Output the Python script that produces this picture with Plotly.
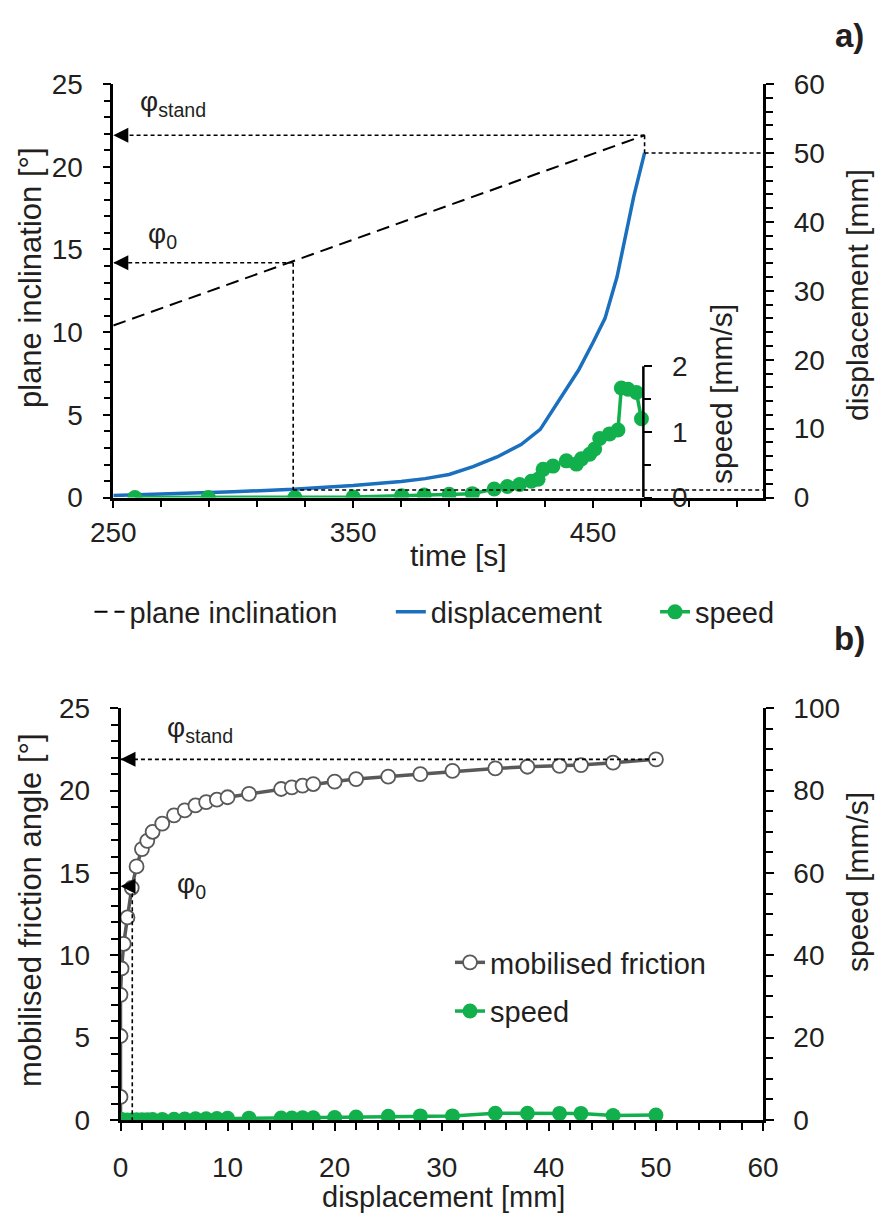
import plotly.graph_objects as go

W, H = 875, 1213

# ---------------- data: panel a (time series) ----------------
time_incl = [250, 471.5]
plane_incl = [10.4, 21.9]

time_disp = [250, 275, 300, 325, 350, 370, 380, 390, 400, 410, 420, 428, 436, 444, 450, 455, 460, 467, 471.5]
displacement = [0.3, 0.55, 0.85, 1.2, 1.75, 2.35, 2.75, 3.35, 4.5, 5.9, 7.7, 9.9, 14.2, 18.5, 22.5, 26.0, 32.0, 43.7, 50.0]

time_speed = [259, 289.6, 325.7, 350, 370.2, 379.6, 390, 399.7, 408.8, 414.3, 419.4, 424.3, 427.1,
              429.2, 433.3, 438.9, 443.1, 445.2, 448.6, 450.7, 452.8, 456.9, 460.4, 461.8, 464.6,
              468.1, 470.2]
speed_a = [0.0, 0.0, 0.0, 0.01, 0.03, 0.04, 0.05, 0.06, 0.13, 0.17, 0.2, 0.25, 0.28,
           0.43, 0.48, 0.56, 0.51, 0.59, 0.66, 0.74, 0.9, 0.97, 1.03, 1.67, 1.65,
           1.6, 1.2]

# characteristic values
T_START = 250
T_PHI0 = 325
T_END = 471.5
PHI_0 = 14.2
PHI_STAND = 21.9
D_PHI0 = 1.1
D_END = 50
T_SPEED_AXIS = 471

# ---------------- data: panel b (vs displacement) ----------------
disp_b = [0, 0, 0, 0, 0.1, 0.3, 0.65, 1.05, 1.5, 2.0, 2.5, 3.0, 3.9, 5, 6, 7, 8, 9, 10, 12,
          15, 16, 17, 18, 20, 22, 25, 28, 31, 35, 38, 41, 43, 46, 50]
friction_b = [0, 1.4, 5.1, 7.6, 9.2, 10.7, 12.3, 14.1, 15.4, 16.45, 16.95, 17.5, 18.0, 18.5, 18.8,
              19.1, 19.3, 19.45, 19.6, 19.8, 20.1, 20.2, 20.3, 20.4, 20.55, 20.7, 20.85, 21.0,
              21.2, 21.35, 21.45, 21.5, 21.55, 21.7, 21.9]
speed_b = [0, 0, 0, 0, 0, 0, 0.02, 0.03, 0.04, 0.05, 0.06, 0.1, 0.15, 0.2, 0.25, 0.28, 0.3,
           0.35, 0.4, 0.45, 0.5, 0.5, 0.55, 0.55, 0.6, 0.7, 0.9, 1.0, 1.0, 1.65, 1.65, 1.6,
           1.6, 1.1, 1.2]

# axis ranges / ticks
XA_RANGE = [250, 521]
YA_RANGE = [0, 25]
YA2_RANGE = [0, 60]
YA3_RANGE = [0, 6.3]
XB_RANGE = [0, 60]
YB_RANGE = [0, 25]
YB2_RANGE = [0, 100]

# ---------------- style ----------------
FONT = "Liberation Sans, Arial, sans-serif"
TXT = "#231f20"
GREEN = "#12b04c"
BLUE = "#1a6fbe"
GREY = "#595959"
FS = 28
FT = 30

XA_DOM = [113.3 / W, 763.3 / W]
YA_DOM = [1 - 497.6 / H, 1 - 84 / H]
XB_DOM = [120.5 / W, 763 / W]
YB_DOM = [1 - 1120 / H, 1 - 708.3 / H]


def frac(v, rng, dom):
    return dom[0] + (v - rng[0]) / (rng[1] - rng[0]) * (dom[1] - dom[0])


def axis(**kw):
    d = dict(showgrid=False, zeroline=False, showline=True, linecolor="black", linewidth=2.5,
             ticks="outside", ticklen=8, tickwidth=2, tickcolor="black",
             tickfont=dict(size=FS, color=TXT, family=FONT), automargin=False,
             ticklabelstandoff=14)
    d.update(kw)
    return d


def minor(**kw):
    d = dict(ticks="outside", ticklen=7, tickwidth=2, tickcolor="black", showgrid=False)
    d.update(kw)
    return d


def ghost(**kw):
    d = dict(showgrid=False, zeroline=False, showline=False, ticks="inside", ticklen=8,
             tickwidth=2, tickcolor="black", showticklabels=False, tickmode="array",
             automargin=False)
    d.update(kw)
    return d


fig = go.Figure()

NB = "\u00a0"
# panel a traces
fig.add_trace(go.Scatter(x=time_incl, y=plane_incl, mode="lines", name="plane inclination" + NB * 6,
                         line=dict(color="black", width=2, dash="13px,7px"),
                         xaxis="x", yaxis="y", legend="legend"))
fig.add_trace(go.Scatter(x=time_disp, y=displacement, mode="lines", name="displacement" + NB * 6,
                         line=dict(color=BLUE, width=3.5),
                         xaxis="x", yaxis="y2", legend="legend"))
fig.add_trace(go.Scatter(x=time_speed, y=speed_a, mode="lines+markers", name="speed",
                         line=dict(color=GREEN, width=3.5),
                         marker=dict(color=GREEN, size=15),
                         xaxis="x", yaxis="y3", legend="legend"))

# panel b traces
fig.add_trace(go.Scatter(x=disp_b, y=friction_b, mode="lines+markers", name="mobilised friction",
                         line=dict(color=GREY, width=3.5),
                         marker=dict(color="white", size=14, line=dict(color=GREY, width=1.8)),
                         xaxis="x2", yaxis="y4", legend="legend2", legendgroup="g1"))
fig.add_trace(go.Scatter(x=disp_b, y=speed_b, mode="lines+markers", name="speed",
                         line=dict(color=GREEN, width=3.5),
                         marker=dict(color=GREEN, size=15),
                         xaxis="x2", yaxis="y5", legend="legend2", legendgroup="g2"))

speed_axis_pos = frac(T_SPEED_AXIS, XA_RANGE, XA_DOM)

layout = dict(
    width=W, height=H,
    margin=dict(l=0, r=0, t=0, b=0, pad=0),
    paper_bgcolor="white", plot_bgcolor="rgba(0,0,0,0)",
    font=dict(family=FONT, color=TXT, size=FS),
    showlegend=True,
    # ---- panel a
    xaxis=axis(domain=XA_DOM, anchor="y", range=XA_RANGE, tick0=250, dtick=100,
               minor=minor(tick0=250, dtick=20), ticklabelstandoff=0),
    yaxis=axis(domain=YA_DOM, anchor="x", range=YA_RANGE, tick0=0, dtick=5,
               minor=minor(tick0=0, dtick=1)),
    yaxis2=axis(overlaying="y", anchor="x", side="right", range=YA2_RANGE, tick0=0, dtick=10,
                minor=minor(tick0=0, dtick=2)),
    yaxis3=axis(overlaying="y", anchor="free", position=speed_axis_pos, side="right",
                range=YA3_RANGE, tickmode="array", tickvals=[0, 1, 2], showline=False,
                minor=minor(tickmode="array", tickvals=[0.5, 1.5])),
    # ---- panel b
    xaxis2=axis(domain=XB_DOM, anchor="y4", range=XB_RANGE, tick0=0, dtick=10,
                minor=minor(tick0=0, dtick=2), ticklabelstandoff=13),
    yaxis4=axis(domain=YB_DOM, anchor="x2", range=YB_RANGE, tick0=0, dtick=5,
                minor=minor(tick0=0, dtick=1)),
    yaxis5=axis(overlaying="y4", anchor="x2", side="right", range=YB2_RANGE, tick0=0, dtick=20,
                minor=minor(tick0=0, dtick=5)),
    # ---- ghost axes: inner half of crossing major ticks
    xaxis3=ghost(overlaying="x", anchor="y", range=XA_RANGE, tickvals=[250, 350, 450]),
    xaxis4=ghost(overlaying="x2", anchor="y4", range=XB_RANGE, tickvals=[0, 10, 20, 30, 40, 50, 60]),
    yaxis6=ghost(overlaying="y", anchor="x", range=YA_RANGE, tickvals=[0, 5, 10, 15, 20, 25]),
    yaxis7=ghost(overlaying="y", anchor="x", side="right", range=YA2_RANGE,
                 tickvals=[0, 10, 20, 30, 40, 50, 60]),
    yaxis8=ghost(overlaying="y", anchor="free", position=speed_axis_pos, side="right",
                 range=YA3_RANGE, tickvals=[0, 1, 2]),
    yaxis9=ghost(overlaying="y4", anchor="x2", range=YB_RANGE, tickvals=[0, 5, 10, 15, 20, 25]),
    yaxis10=ghost(overlaying="y4", anchor="x2", side="right", range=YB2_RANGE,
                  tickvals=[0, 20, 40, 60, 80, 100]),
    legend=dict(orientation="h", x=89.5 / W, xanchor="left", y=1 - 612 / H, yanchor="middle",
                font=dict(size=29, color=TXT, family=FONT), bgcolor="rgba(0,0,0,0)",
                borderwidth=0),
    legend2=dict(orientation="v", x=450 / W, xanchor="left", y=1 - 987 / H, yanchor="middle",
                 font=dict(size=29, color=TXT, family=FONT), bgcolor="rgba(0,0,0,0)",
                 borderwidth=0, tracegroupgap=8),
)
fig.update_layout(**layout)

# ---------------- reference lines (dotted) ----------------
DOT = dict(color="black", width=1.6, dash="4px,3px")
y2_per_y = (YA2_RANGE[1] - YA2_RANGE[0]) / (YA_RANGE[1] - YA_RANGE[0])
shapes = [
    # panel a: phi_stand
    dict(type="line", xref="x", yref="y", x0=T_END, x1=T_START, y0=PHI_STAND, y1=PHI_STAND, line=DOT),
    dict(type="line", xref="x", yref="y2", x0=T_END, x1=T_END, y0=PHI_STAND * y2_per_y, y1=D_END, line=DOT),
    dict(type="line", xref="x", yref="y2", x0=T_END, x1=XA_RANGE[1], y0=D_END, y1=D_END, line=DOT),
    # panel a: phi_0
    dict(type="line", xref="x", yref="y", x0=T_PHI0, x1=T_START, y0=PHI_0, y1=PHI_0, line=DOT),
    dict(type="line", xref="x", yref="y2", x0=T_PHI0, x1=T_PHI0, y0=PHI_0 * y2_per_y, y1=D_PHI0, line=DOT),
    dict(type="line", xref="x", yref="y2", x0=T_PHI0, x1=XA_RANGE[1], y0=D_PHI0, y1=D_PHI0, line=DOT),
    # panel a: speed inset axis line (0..2)
    dict(type="line", xref="x", yref="y3", x0=T_SPEED_AXIS, x1=T_SPEED_AXIS, y0=0, y1=2,
         line=dict(color="black", width=2.5)),
    # panel b
    dict(type="line", xref="x2", yref="y4", x0=D_END, x1=0, y0=PHI_STAND, y1=PHI_STAND, line=DOT),
    dict(type="line", xref="x2", yref="y4", x0=D_PHI0, x1=D_PHI0, y0=PHI_0, y1=0, line=DOT),
]
fig.update_layout(shapes=shapes)

# ---------------- annotations ----------------
ann = []


def arrow(xref, yref, x, y):
    ann.append(dict(xref=xref, yref=yref, x=x, y=y, ax=14, ay=0, text="", showarrow=True,
                    arrowhead=2, arrowsize=2.0, arrowwidth=1.5, arrowcolor="black"))


arrow("x", "y", T_START, PHI_STAND)
arrow("x", "y", T_START, PHI_0)
arrow("x2", "y4", 0, PHI_STAND)
arrow("x2", "y4", 0, PHI_0)


def label(text, x, y, size=FT, angle=0, xanchor="center"):
    ann.append(dict(xref="paper", yref="paper", x=x / W, y=1 - y / H, text=text, showarrow=False,
                    textangle=angle, xanchor=xanchor, yanchor="middle",
                    font=dict(size=size, color=TXT, family=FONT)))


label("φ<sub>stand</sub>", 138, 103, size=FS, xanchor="left")
label("φ<sub>0</sub>", 146, 236, size=FS, xanchor="left")
label("φ<sub>stand</sub>", 165, 729, size=FS, xanchor="left")
label("φ<sub>0</sub>", 175, 885, size=FS, xanchor="left")

label("plane inclination [°]", 30, 278, size=31, angle=-90)
label("displacement [mm]", 857, 295, angle=-90)
label("speed [mm/s]", 722, 394, angle=-90)
label("time [s]", 458, 555)
label("mobilised friction angle [°]", 30, 910, size=31, angle=-90)
label("speed [mm/s]", 857, 882, angle=-90)
label("displacement [mm]", 443, 1197, size=29)
label("<b>a)</b>", 849, 35, size=33)
label("<b>b)</b>", 849, 638, size=33)

fig.update_layout(annotations=ann)

fig.write_html("out.html")
